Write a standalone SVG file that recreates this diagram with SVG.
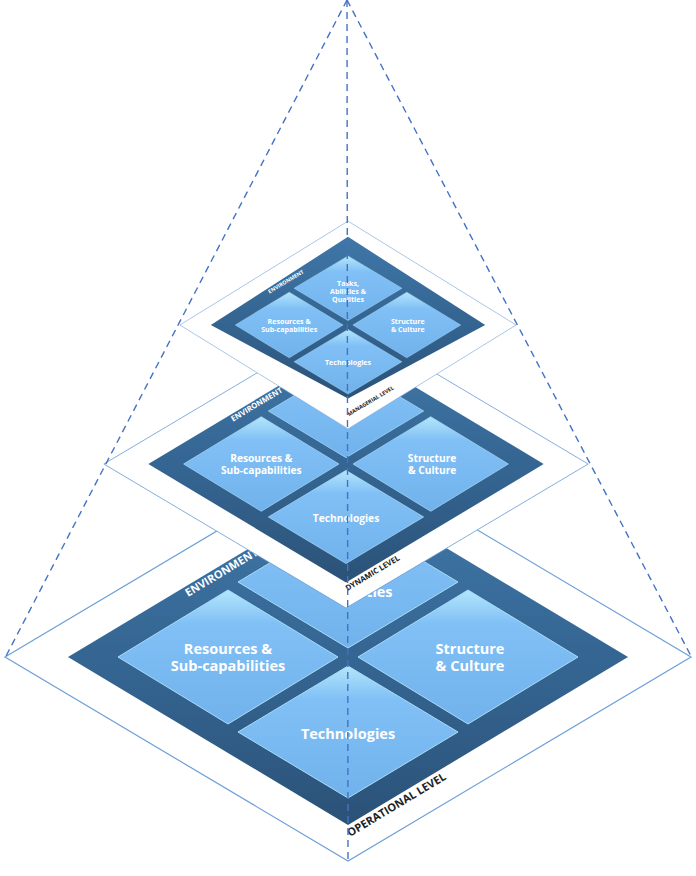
<svg xmlns="http://www.w3.org/2000/svg" width="696" height="876" viewBox="0 0 696 876">
<defs>
<linearGradient id="dk" x1="0" y1="0" x2="0" y2="1"><stop offset="0" stop-color="#3f77a8"/><stop offset="0.6" stop-color="#33628e"/><stop offset="1" stop-color="#2b5278"/></linearGradient>
<linearGradient id="tl" x1="0" y1="0" x2="0" y2="1"><stop offset="0" stop-color="#b4e6fb"/><stop offset="0.25" stop-color="#80c0f6"/><stop offset="1" stop-color="#72b2ec"/></linearGradient>
<style>
.outer{fill:#fff;stroke:#6d9fd6;stroke-width:1.2}
.tile{fill:url(#tl);stroke:#a9dcf6;stroke-width:1}
.tt{font-family:"Open Sans","Liberation Sans",sans-serif;font-weight:bold;fill:#fff;font-size:14.5px;text-anchor:middle}
.env{font-family:"Open Sans","Liberation Sans",sans-serif;font-weight:bold;fill:#fff;font-size:11px}
.lvl{font-family:"Open Sans","Liberation Sans",sans-serif;font-weight:bold;fill:#222;font-size:11px}
.dash{stroke:#4472c4;stroke-width:1.4;stroke-dasharray:7 5;fill:none}
</style>
</defs>
<g id="operational" transform="translate(348,657)">
<polygon class="outer" points="-343,0 0,-204 343,0 0,204"/>
<polygon points="-280,0 0,-168 280,0 0,168" fill="url(#dk)"/>
<polygon class="tile" points="-230,0 -120,-67 -10,0 -120,67"/>
<polygon class="tile" points="10,0 120,-67 230,0 120,67"/>
<polygon class="tile" points="-110,-75 0,-141 110,-75 0,-9"/>
<polygon class="tile" points="-110,75 0,9 110,75 0,141"/>
<text class="tt" x="0" y="-98">Tasks,</text><text class="tt" x="0" y="-81">Abilities &amp;</text><text class="tt" x="12" y="-60">Qualities</text>
<text class="tt" x="-120" y="-3">Resources &amp;</text><text class="tt" x="-120" y="14">Sub-capabilities</text>
<text class="tt" x="122" y="-3">Structure</text><text class="tt" x="122" y="14">&amp; Culture</text>
<text class="tt" x="0" y="82">Technologies</text>
<text class="env" transform="translate(-160,-60) rotate(-31)">ENVIRONMENT</text>
<text class="lvl" transform="translate(2,180) rotate(-31)">OPERATIONAL LEVEL</text>
</g>
<g id="dynamic" transform="translate(346,464) scale(0.706)">
<polygon class="outer" points="-343,0 0,-204 343,0 0,204"/>
<polygon points="-280,0 0,-168 280,0 0,168" fill="url(#dk)"/>
<polygon class="tile" points="-230,0 -120,-67 -10,0 -120,67"/>
<polygon class="tile" points="10,0 120,-67 230,0 120,67"/>
<polygon class="tile" points="-110,-75 0,-141 110,-75 0,-9"/>
<polygon class="tile" points="-110,75 0,9 110,75 0,141"/>
<text class="tt" x="0" y="-112">Tasks,</text><text class="tt" x="0" y="-95">Abilities &amp;</text><text class="tt" x="0" y="-78">Qualities</text>
<text class="tt" x="-120" y="-3">Resources &amp;</text><text class="tt" x="-120" y="14">Sub-capabilities</text>
<text class="tt" x="122" y="-3">Structure</text><text class="tt" x="122" y="14">&amp; Culture</text>
<text class="tt" x="0" y="82">Technologies</text>
<text class="env" transform="translate(-160,-60) rotate(-31)">ENVIRONMENT</text>
<text class="lvl" transform="translate(2,180) rotate(-31)">DYNAMIC LEVEL</text>
</g>
<g id="managerial" transform="translate(348,325) scale(0.49)">
<polygon class="outer" points="-343,0 0,-212 343,0 0,212"/>
<polygon points="-280,0 0,-180 280,0 0,150" fill="url(#dk)"/>
<polygon class="tile" points="-230,0 -120,-67 -10,0 -120,67"/>
<polygon class="tile" points="10,0 120,-67 230,0 120,67"/>
<polygon class="tile" points="-110,-75 0,-141 110,-75 0,-9"/>
<polygon class="tile" points="-110,75 0,9 110,75 0,141"/>
<text class="tt" x="0" y="-80">Tasks,</text><text class="tt" x="0" y="-63">Abilities &amp;</text><text class="tt" x="0" y="-46">Qualities</text>
<text class="tt" x="-120" y="-3">Resources &amp;</text><text class="tt" x="-120" y="14">Sub-capabilities</text>
<text class="tt" x="122" y="-3">Structure</text><text class="tt" x="122" y="14">&amp; Culture</text>
<text class="tt" x="0" y="82">Technologies</text>
<text class="env" transform="translate(-160,-64) rotate(-31)">ENVIRONMENT</text>
<text class="lvl" transform="translate(2,186) rotate(-31)">MANAGERIAL LEVEL</text>
</g>
<g id="connectors">
<line class="dash" x1="347" y1="0" x2="5" y2="658"/>
<line class="dash" x1="347" y1="0" x2="692" y2="658"/>
<line class="dash" x1="347" y1="0" x2="348" y2="862"/>
</g>
</svg>
